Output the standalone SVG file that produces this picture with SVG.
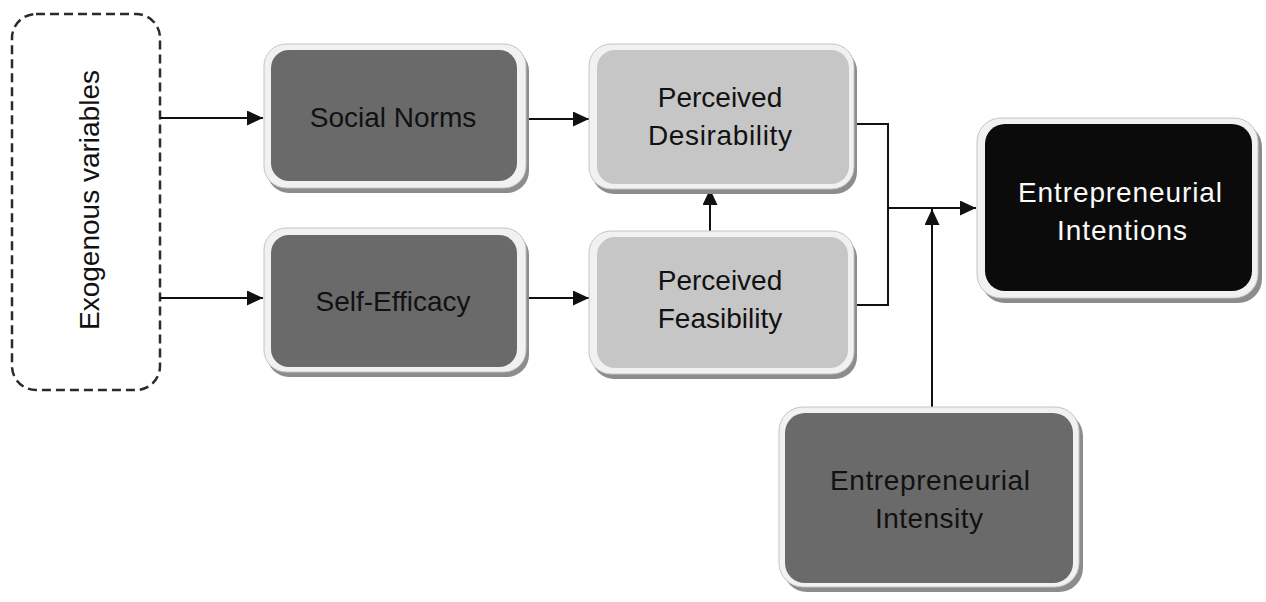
<svg xmlns="http://www.w3.org/2000/svg" width="1266" height="602" viewBox="0 0 1266 602">
  <style>
    .label { font-family: "Liberation Sans", Arial, sans-serif; font-size: 28px; text-anchor: middle; fill: #111; }
    .light-label { fill: #fafafa; }
    .shadow { fill: #8c8c8c; }
    .rim { fill: #f1f1f1; stroke: #c4c4c4; stroke-width: 1; }
    .dark { fill: #6a6a6a; }
    .pale { fill: #c6c6c6; }
    .black { fill: #0b0b0b; }
    .wire { fill: none; stroke: #111; stroke-width: 2; }
  </style>
  <defs>
    <marker id="arrow" markerUnits="userSpaceOnUse" markerWidth="16" markerHeight="15" refX="16" refY="7.5" orient="auto">
      <path d="M0,0 L16,7.5 L0,15 z" fill="#111"/>
    </marker>
  </defs>

  <rect width="1266" height="602" fill="#ffffff"/>

  <!-- exogenous variables (dashed container) -->
  <g id="exogenous">
    <rect x="12" y="14" width="148" height="376" rx="24" fill="none" stroke="#2a2a2a" stroke-width="2.5" stroke-dasharray="9 5"/>
    <text class="label" transform="translate(99,200) rotate(-90)">Exogenous variables</text>
  </g>

  <!-- connectors -->
  <g id="connectors">
    <path class="wire" d="M160,118 H263" marker-end="url(#arrow)"/>
    <path class="wire" d="M160,298 H263" marker-end="url(#arrow)"/>
    <path class="wire" d="M526,119 H589" marker-end="url(#arrow)"/>
    <path class="wire" d="M526,298 H589" marker-end="url(#arrow)"/>
    <path class="wire" d="M710,231 V189" marker-end="url(#arrow)"/>
    <path class="wire" d="M854,124 H888 V305 H854"/>
    <path class="wire" d="M888,208 H976" marker-end="url(#arrow)"/>
    <path class="wire" d="M932,407 V209" marker-end="url(#arrow)"/>
  </g>

  <!-- social norms -->
  <g id="social-norms">
    <rect class="shadow" x="267" y="49" width="262" height="144" rx="22"/>
    <rect class="rim" x="264" y="44" width="262" height="144" rx="22"/>
    <rect class="dark" x="271" y="50" width="246" height="131" rx="18"/>
    <text class="label" x="393" y="127">Social Norms</text>
  </g>

  <!-- self-efficacy -->
  <g id="self-efficacy">
    <rect class="shadow" x="267" y="233" width="262" height="144" rx="22"/>
    <rect class="rim" x="264" y="228" width="262" height="144" rx="22"/>
    <rect class="dark" x="271" y="235" width="246" height="132" rx="18"/>
    <text class="label" x="393" y="311">Self-Efficacy</text>
  </g>

  <!-- perceived desirability -->
  <g id="perceived-desirability">
    <rect class="shadow" x="592" y="49" width="265" height="145" rx="22"/>
    <rect class="rim" x="589" y="44" width="265" height="145" rx="22"/>
    <rect class="pale" x="597" y="50" width="252" height="134" rx="18"/>
    <text class="label" x="720" y="107">Perceived</text>
    <text class="label" x="720" y="145" textLength="144">Desirability</text>
  </g>

  <!-- perceived feasibility -->
  <g id="perceived-feasibility">
    <rect class="shadow" x="592" y="236" width="265" height="143" rx="22"/>
    <rect class="rim" x="589" y="231" width="265" height="143" rx="22"/>
    <rect class="pale" x="597" y="237" width="251" height="131" rx="18"/>
    <text class="label" x="720" y="290">Perceived</text>
    <text class="label" x="720" y="328">Feasibility</text>
  </g>

  <!-- entrepreneurial intentions -->
  <g id="entrepreneurial-intentions">
    <rect class="shadow" x="981" y="123" width="281" height="180" rx="24"/>
    <rect class="rim" x="977" y="118" width="281" height="180" rx="24"/>
    <rect class="black" x="985" y="124" width="267" height="167" rx="20"/>
    <text class="label light-label" x="1120" y="202" textLength="204">Entrepreneurial</text>
    <text class="label light-label" x="1122" y="240" textLength="130">Intentions</text>
  </g>

  <!-- entrepreneurial intensity -->
  <g id="entrepreneurial-intensity">
    <rect class="shadow" x="783" y="412" width="300" height="180" rx="24"/>
    <rect class="rim" x="779" y="407" width="300" height="180" rx="24"/>
    <rect class="dark" x="785" y="413" width="288" height="170" rx="20"/>
    <text class="label" x="930" y="490" textLength="200">Entrepreneurial</text>
    <text class="label" x="929" y="528" textLength="108">Intensity</text>
  </g>
</svg>
